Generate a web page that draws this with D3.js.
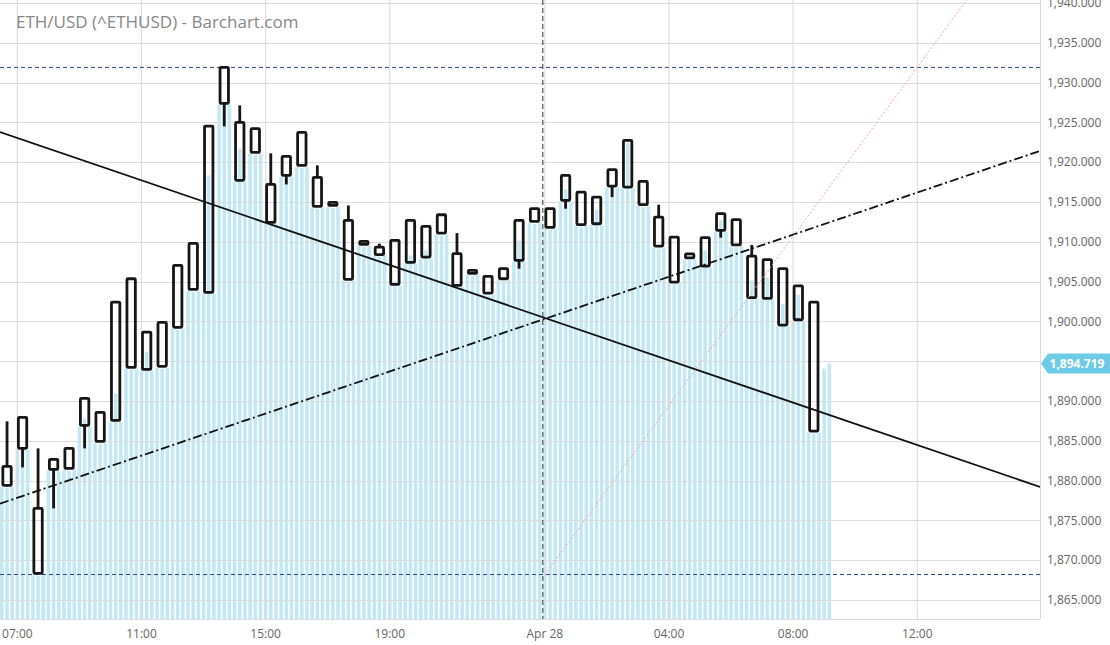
<!DOCTYPE html>
<html><head><meta charset="utf-8">
<script src="https://cdn.jsdelivr.net/npm/d3@7"></script>
<style>
html,body{margin:0;padding:0;background:#fff;}
svg{display:block;font-family:"Open Sans",sans-serif;}
</style></head><body>
<svg id="chart" width="1110" height="645"></svg>
<script>
// ---------------- DATA ----------------
const title = "ETH/USD (^ETHUSD) - Barchart.com";
const candleStart = new Date(2023, 3, 27, 6, 30);   // first 30-min candle
const candleMinutes = 30;
const subMinutes = 10;                                 // fine-grained mountain bars

const open  = [1879.40,1884.05,1876.51,1881.41,1881.53,1886.93,1888.57,1887.56,1905.36,1893.97,
               1894.35,1899.25,1904.02,1903.64,1927.39,1925.00,1921.23,1917.21,1918.34,1919.60,
               1918.09,1914.95,1912.69,1910.05,1909.33,1904.65,1907.41,1911.93,1911.09,1908.51,
               1906.41,1905.65,1905.36,1907.66,1912.56,1911.81,1915.20,1916.24,1912.27,1917.00,
               1916.87,1917.59,1913.10,1910.59,1908.48,1906.95,1911.43,1912.78,1908.20,1907.75,
               1906.62,1900.21,1902.42];
const high  = [1887.44,1887.94,1884.05,1882.66,1884.05,1890.33,1888.57,1902.42,1905.36,1898.66,
               1899.87,1907.04,1909.80,1924.54,1931.91,1927.14,1924.21,1921.11,1920.73,1923.74,
               1919.60,1914.95,1914.57,1910.05,1909.76,1910.18,1912.69,1911.93,1913.40,1911.09,
               1906.41,1905.65,1906.62,1912.69,1914.16,1914.16,1918.34,1916.24,1915.62,1919.06,
               1922.74,1917.59,1914.66,1910.59,1908.48,1910.52,1913.53,1912.78,1909.61,1907.75,
               1906.62,1904.46,1902.42];
const low   = [1879.27,1881.66,1868.34,1876.51,1881.53,1884.05,1884.92,1887.56,1894.22,1893.97,
               1894.35,1899.25,1904.02,1903.64,1924.50,1917.72,1921.23,1912.44,1917.21,1919.60,
               1914.45,1914.57,1905.28,1909.67,1908.38,1904.65,1907.41,1908.08,1911.09,1904.52,
               1906.03,1903.56,1905.36,1906.62,1912.56,1911.81,1914.16,1912.15,1912.27,1915.62,
               1916.87,1914.66,1909.46,1904.94,1907.98,1906.95,1910.52,1909.61,1902.98,1902.89,
               1899.54,1900.21,1886.22];
const close = [1881.78,1887.94,1868.34,1882.66,1884.05,1890.33,1884.92,1902.42,1894.22,1898.66,
               1899.87,1907.04,1909.80,1924.54,1931.91,1917.72,1924.21,1912.44,1920.73,1923.74,
               1914.45,1914.57,1905.28,1909.67,1908.38,1910.18,1912.69,1908.08,1913.40,1904.52,
               1906.03,1903.56,1906.62,1912.69,1914.16,1914.16,1918.34,1912.15,1915.62,1919.06,
               1922.74,1914.66,1909.46,1904.94,1907.98,1910.52,1913.53,1909.61,1902.98,1902.89,
               1899.54,1904.46,1886.22];

// 10-minute mountain values (light-blue bars)
const mountain = [
 1879.25,1879.10,1879.25, 1883.90,1883.75,1883.90, 1868.20,1868.05,1868.20, 1881.26,1881.10,1881.26,
 1881.38,1881.20,1881.38, 1886.78,1887.81,1886.78, 1884.77,1884.60,1884.77, 1887.41,1890.95,1887.41,
 1894.07,1893.90,1894.07, 1893.82,1896.14,1893.82, 1894.20,1894.05,1894.20, 1899.10,1898.95,1899.10,
 1903.87,1903.70,1903.87, 1903.49,1918.34,1903.49, 1927.24,1927.10,1927.24, 1917.57,1921.70,1917.57,
 1921.08,1920.90,1921.08, 1912.29,1912.10,1912.29, 1918.19,1918.00,1918.19, 1919.45,1919.30,1919.45,
 1914.30,1914.15,1914.30, 1914.42,1914.25,1914.42, 1905.13,1905.00,1905.13, 1909.52,1909.35,1909.52,
 1908.23,1908.10,1908.23, 1904.50,1905.10,1904.50, 1907.26,1908.29,1907.26, 1907.93,1908.92,1907.93,
 1910.94,1910.80,1910.94, 1904.37,1904.20,1904.37, 1905.88,1905.70,1905.88, 1903.41,1903.25,1903.41,
 1905.21,1905.05,1905.21, 1907.51,1910.18,1907.51, 1912.41,1912.25,1912.41, 1911.66,1911.50,1911.66,
 1915.05,1916.60,1915.05, 1912.00,1911.85,1912.00, 1912.12,1914.03,1912.12, 1916.85,1916.70,1916.85,
 1916.72,1922.40,1916.72, 1914.51,1914.35,1914.51, 1909.31,1909.15,1909.31, 1904.79,1904.65,1904.79,
 1907.83,1907.70,1907.83, 1906.80,1908.92,1906.80, 1911.28,1912.69,1911.28, 1909.46,1909.30,1909.46,
 1902.83,1905.15,1902.83, 1902.74,1905.49,1902.74, 1899.39,1902.22,1899.39, 1900.06,1903.35,1900.06,
 1886.07,1885.90,1886.07, 1894.06,1894.72];
const lastPrice = 1894.719;

// axis ticks
const yTicks = [1865,1870,1875,1880,1885,1890,1895,1900,1905,1910,1915,1920,1925,1930,1935,1940];
const yTickLabels = yTicks.filter(v => v !== 1895);
const xTickTimes  = [new Date(2023,3,27,7), new Date(2023,3,27,11), new Date(2023,3,27,15), new Date(2023,3,27,19),
                     new Date(2023,3,28,0), new Date(2023,3,28,4), new Date(2023,3,28,8), new Date(2023,3,28,12)];
const xTickLabels = ["07:00","11:00","15:00","19:00","Apr 28","04:00","08:00","12:00"];

// drawings
const highLevel = 1931.91, lowLevel = 1868.20;
const solidTrend   = [[new Date(2023,3,27,13,0), 1915.06], [new Date(2023,3,28,8,0), 1889.79]];
const dashDotTrend = [[new Date(2023,3,27,13,0), 1885.78], [new Date(2023,3,28,8,0), 1910.90]];
const pinkRay      = [[new Date(2023,3,28,0,0), 1868.20], [new Date(2023,3,28,13,35), 1940.33]];
const crosshairTime = new Date(2023,3,27,23,56);

// ---------------- LAYOUT ----------------
const W = 1110, H = 645;
const plot = {left: 0, right: 1040, top: 0, bottom: 619};
const svg = d3.select("#chart");

const x = d3.scaleTime()
  .domain([new Date(2023,3,27,11), new Date(2023,3,28,12)])
  .range([141.5, 917.25]);
const y = d3.scaleLinear().domain([1865, 1940]).range([600, 3]);

svg.append("defs").append("clipPath").attr("id","clip")
  .append("rect").attr("x",plot.left).attr("y",plot.top)
  .attr("width",plot.right-plot.left).attr("height",plot.bottom-plot.top);

const g = svg.append("g").attr("clip-path","url(#clip)");

// mountain bars
const subTimes = mountain.map((v,k) => d3.timeMinute.offset(candleStart, subMinutes*k));
const barW = 3.6;
g.append("g").selectAll("rect").data(mountain).join("rect")
  .attr("x",(d,k)=> x(subTimes[k]) - barW/2)
  .attr("y", d => y(d))
  .attr("width", barW)
  .attr("height", d => plot.bottom - y(d))
  .attr("fill","#c3e8f4");

// grid
const grid = g.append("g").attr("stroke","#dcdcdc").attr("stroke-width",1.1);
grid.selectAll(".hy").data(yTicks).join("line")
  .attr("x1",plot.left).attr("x2",plot.right)
  .attr("y1",d=>Math.round(y(d))+0.5).attr("y2",d=>Math.round(y(d))+0.5);
grid.selectAll(".vx").data(xTickTimes).join("line")
  .attr("x1",d=>x(d)).attr("x2",d=>x(d))
  .attr("y1",plot.top).attr("y2",plot.bottom);

// high / low dashed levels
g.selectAll(".lvl").data([highLevel, lowLevel]).join("line")
  .attr("x1",plot.left).attr("x2",plot.right)
  .attr("y1",d=>y(d)).attr("y2",d=>y(d))
  .attr("stroke","#2a4a80").attr("stroke-width",1).attr("stroke-dasharray","4,3");

// candles
const candles = open.map((o,i)=>({t: d3.timeMinute.offset(candleStart, candleMinutes*i), o, h: high[i], l: low[i], c: close[i]}));
const cx = d => x(d3.timeMinute.offset(d.t, subMinutes));
const bodyW = 8.4;
const cg = g.append("g").attr("stroke","#161616").attr("stroke-width",2.8).attr("fill","none");
cg.selectAll(".wickUp").data(candles.filter(d => d.h > Math.max(d.o,d.c))).join("line")
  .attr("x1",cx).attr("x2",cx)
  .attr("y1",d=>y(d.h)).attr("y2",d=>y(Math.max(d.o,d.c)));
cg.selectAll(".wickDn").data(candles.filter(d => d.l < Math.min(d.o,d.c))).join("line")
  .attr("x1",cx).attr("x2",cx)
  .attr("y1",d=>y(Math.min(d.o,d.c))).attr("y2",d=>y(d.l));
cg.selectAll(".body").data(candles).join("rect")
  .attr("x",d=>cx(d)-bodyW/2)
  .attr("y",d=>y(Math.max(d.o,d.c)))
  .attr("width",bodyW)
  .attr("height",d=>Math.max(1, y(Math.min(d.o,d.c)) - y(Math.max(d.o,d.c))))
  .attr("rx",1).attr("fill","none").attr("stroke-linejoin","round");

// trend lines extended across the plot
function extend(pts){
  const [t0,p0] = pts[0], [t1,p1] = pts[1];
  const slope = (p1-p0)/(t1-t0);
  const ta = x.invert(plot.left), tb = x.invert(plot.right);
  return [[ta, p0 + slope*(ta-t0)], [tb, p0 + slope*(tb-t0)]];
}
const line = d3.line().x(d=>x(d[0])).y(d=>y(d[1]));
g.append("path").attr("d", line(extend(solidTrend)))
  .attr("stroke","#111").attr("stroke-width",1.8).attr("fill","none");
g.append("path").attr("d", line(extend(dashDotTrend)))
  .attr("stroke","#111").attr("stroke-width",1.8).attr("fill","none")
  .attr("stroke-dasharray","9,3,2,3");

// pink ray
(function(){
  const [t0,p0] = pinkRay[0], [t1,p1] = pinkRay[1];
  const slope = (p1-p0)/(t1-t0);
  const tb = x.invert(plot.right);
  g.append("path").attr("d", line([[t0,p0],[tb, p0+slope*(tb-t0)]]))
    .attr("stroke","#f4a3a8").attr("stroke-width",1).attr("fill","none")
    .attr("stroke-dasharray","2,2");
})();

// crosshair
g.append("line")
  .attr("x1",x(crosshairTime)).attr("x2",x(crosshairTime))
  .attr("y1",plot.top).attr("y2",plot.bottom)
  .attr("stroke","#333").attr("stroke-width",1).attr("stroke-dasharray","5,3");

// borders
svg.append("line").attr("x1",plot.right+0.5).attr("x2",plot.right+0.5)
  .attr("y1",0).attr("y2",plot.bottom).attr("stroke","#dcdcdc").attr("stroke-width",1);
svg.append("line").attr("x1",0).attr("x2",plot.right)
  .attr("y1",plot.bottom+0.5).attr("y2",plot.bottom+0.5).attr("stroke","#dcdcdc").attr("stroke-width",1);

// y axis labels
const fmt = d3.format(",.3f");
svg.append("g").selectAll("text").data(yTickLabels).join("text")
  .attr("x",1047).attr("y",d=>y(d)).attr("dy","0.35em")
  .attr("font-size",12).attr("fill","#666").text(d=>fmt(d));

// x axis labels
svg.append("g").selectAll("text").data(xTickTimes).join("text")
  .attr("x",d=>x(d)).attr("y",638).attr("text-anchor","middle")
  .attr("font-size",12).attr("fill","#666").text((d,i)=>xTickLabels[i]);

// last price label
const ly = y(lastPrice);
svg.append("path")
  .attr("d", `M${plot.right+1},${ly} L${plot.right+8},${ly-10} L${W},${ly-10} L${W},${ly+10} L${plot.right+8},${ly+10} Z`)
  .attr("fill","#6ecbe7");
svg.append("text").attr("x",1077).attr("y",ly).attr("dy","0.35em")
  .attr("text-anchor","middle").attr("font-size",12).attr("font-weight","bold")
  .attr("fill","#fff").text(fmt(lastPrice));

// title
svg.append("text").attr("x",16).attr("y",28).attr("font-size",17).attr("fill","#888").text(title);
</script>
</body></html>
